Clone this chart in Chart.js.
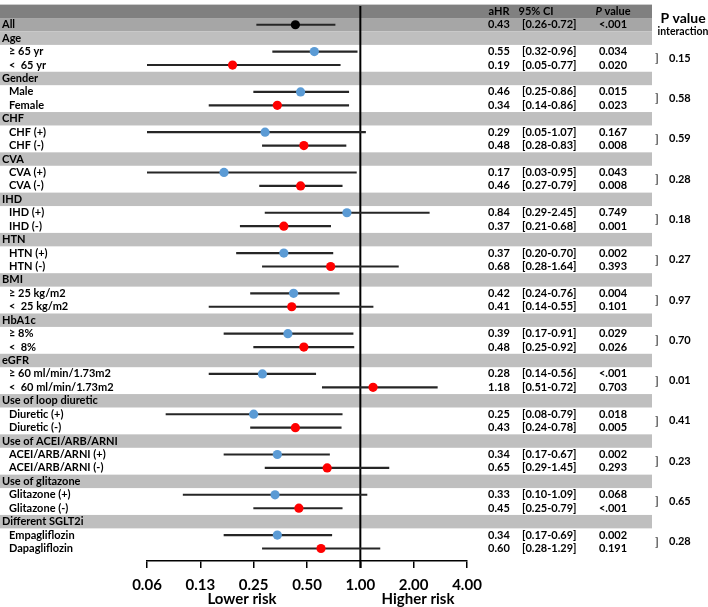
<!DOCTYPE html>
<html>
<head>
<meta charset="utf-8">
<script src="https://cdn.jsdelivr.net/npm/chart.js@4.4.1/dist/chart.umd.min.js"></script>
<style>
  html, body { margin: 0; padding: 0; background: #fff; }
  #wrap { width: 708px; height: 607px; }
</style>
</head>
<body>
<div id="wrap"><canvas id="forest" width="708" height="607"></canvas></div>
<script>
// subgroup table
const overallLabel = "All";
const groupNames = ["Age", "Gender", "CHF", "CVA", "IHD", "HTN", "BMI", "HbA1c", "eGFR",
    "Use of loop diuretic", "Use of ACEI/ARB/ARNI", "Use of glitazone", "Different SGLT2i"];
const subgroupNames = ["≥ 65 yr", "<  65 yr", "Male", "Female", "CHF (+)", "CHF (-)",
    "CVA (+)", "CVA (-)", "IHD (+)", "IHD (-)", "HTN (+)", "HTN (-)",
    "≥ 25 kg/m2", "<  25 kg/m2", "≥ 8%", "<  8%", "≥ 60 ml/min/1.73m2", "<  60 ml/min/1.73m2",
    "Diuretic (+)", "Diuretic (-)", "ACEI/ARB/ARNI (+)", "ACEI/ARB/ARNI (-)",
    "Glitazone (+)", "Glitazone (-)", "Empagliflozin", "Dapagliflozin"];

// index 0 = All, then subgroups in order
const aHR = [0.43, 0.55, 0.19, 0.46, 0.34, 0.29, 0.48, 0.17, 0.46, 0.84, 0.37, 0.37, 0.68,
    0.42, 0.41, 0.39, 0.48, 0.28, 1.18, 0.25, 0.43, 0.34, 0.65, 0.33, 0.45, 0.34, 0.60];
// whiskers as drawn in the figure
const ciLow = [0.26, 0.32, 0.05, 0.25, 0.14, 0.05, 0.28, 0.03, 0.27, 0.29, 0.21, 0.20, 0.28,
    0.24, 0.14, 0.17, 0.25, 0.14, 0.61, 0.08, 0.24, 0.17, 0.29, 0.10, 0.25, 0.17, 0.28];
const ciHigh = [0.72, 0.96, 0.77, 0.86, 0.86, 1.07, 0.83, 0.95, 0.79, 2.45, 0.68, 0.70, 1.64,
    0.76, 1.18, 0.91, 0.92, 0.56, 2.72, 0.79, 0.78, 0.67, 1.45, 1.09, 0.79, 0.69, 1.29];
// printed columns
const ciText = ["[0.26-0.72]", "[0.32-0.96]", "[0.05-0.77]", "[0.25-0.86]", "[0.14-0.86]",
    "[0.05-1.07]", "[0.28-0.83]", "[0.03-0.95]", "[0.27-0.79]", "[0.29-2.45]", "[0.21-0.68]",
    "[0.20-0.70]", "[0.28-1.64]", "[0.24-0.76]", "[0.14-0.55]", "[0.17-0.91]", "[0.25-0.92]",
    "[0.14-0.56]", "[0.51-0.72]", "[0.08-0.79]", "[0.24-0.78]", "[0.17-0.67]", "[0.29-1.45]",
    "[0.10-1.09]", "[0.25-0.79]", "[0.17-0.69]", "[0.28-1.29]"];
const pText = ["<.001", "0.034", "0.020", "0.015", "0.023", "0.167", "0.008", "0.043", "0.008",
    "0.749", "0.001", "0.002", "0.393", "0.004", "0.101", "0.029", "0.026", "<.001", "0.703",
    "0.018", "0.005", "0.002", "0.293", "0.068", "<.001", "0.002", "0.191"];
const pInteraction = ["0.15", "0.58", "0.59", "0.28", "0.18", "0.27", "0.97", "0.70", "0.01",
    "0.41", "0.23", "0.65", "0.28"];

// x axis
const tickValues = [0.0625, 0.125, 0.25, 0.5, 1, 2, 4];
const tickLabels = ["0.06", "0.13", "0.25", "0.50", "1.00", "2.00", "4.00"];

const FONT = "Lato";
const BLUE = "#5b9bd5", RED = "#ff0000";

// build the row list: header, All, then group + 2 subgroups
const rows = [{ kind: "head" }, { kind: "all", label: overallLabel, k: 0 }];
groupNames.forEach((g, gi) => {
    rows.push({ kind: "group", label: g, gi: gi });
    rows.push({ kind: "data", label: subgroupNames[gi * 2], k: gi * 2 + 1 });
    rows.push({ kind: "data", label: subgroupNames[gi * 2 + 1], k: gi * 2 + 2 });
});
const rowOf = [];
rows.forEach((r, i) => { if (r.k !== undefined) rowOf[r.k] = i; });

const pointColors = aHR.map((v, k) => k === 0 ? "#000" : (k % 2 === 1 ? BLUE : RED));

const bandColor = { head: "#808080", all: "#a6a6a6", group: "#bfbfbf" };

const forestPlugin = {
    id: "forestPlugin",
    beforeDatasetsDraw(chart) {
        const { ctx, scales: { x, y }, chartArea } = chart;
        ctx.save();
        rows.forEach((r, i) => {
            if (r.kind === "data") return;
            const top = y.getPixelForValue(i - 0.5);
            const bot = y.getPixelForValue(i + 0.5);
            ctx.fillStyle = bandColor[r.kind];
            ctx.fillRect(0, top, 652, bot - top);
        });
        // line of no effect
        const x1 = x.getPixelForValue(1);
        ctx.strokeStyle = "#000";
        ctx.lineWidth = 2;
        ctx.beginPath();
        ctx.moveTo(x1, 6);
        ctx.lineTo(x1, chartArea.bottom + 7);
        ctx.stroke();
        ctx.restore();
    },
    afterDraw(chart) {
        const { ctx, scales: { x, y }, chartArea } = chart;
        ctx.save();
        ctx.fillStyle = "#000";
        ctx.textBaseline = "middle";

        // header row
        const hy = y.getPixelForValue(0);
        ctx.font = "bold 11px " + FONT;
        ctx.textAlign = "center";
        ctx.fillText("aHR", 499, hy);
        ctx.fillText("95% CI", 536, hy);
        ctx.font = "italic bold 11px " + FONT;
        const wP = ctx.measureText("P").width;
        ctx.font = "bold 11px " + FONT;
        const wV = ctx.measureText(" value").width;
        ctx.textAlign = "left";
        const px0 = 613 - (wP + wV) / 2;
        ctx.font = "italic bold 11px " + FONT;
        ctx.fillText("P", px0, hy);
        ctx.font = "bold 11px " + FONT;
        ctx.fillText(" value", px0 + wP, hy);

        rows.forEach((r, i) => {
            if (r.kind === "head") return;
            const yc = y.getPixelForValue(i);
            ctx.font = "bold 11px " + FONT;
            ctx.textAlign = "left";
            ctx.fillText(r.label, r.kind === "data" ? 9 : 2, yc);
            if (r.k !== undefined) {
                ctx.textAlign = "center";
                ctx.fillText(aHR[r.k].toFixed(2), 499, yc);
                ctx.textAlign = "left";
                ctx.fillText(ciText[r.k], 522, yc);
                ctx.textAlign = "center";
                ctx.fillText(pText[r.k], 613, yc);
            }
        });

        // interaction column
        ctx.textAlign = "center";
        ctx.font = "bold 14px " + FONT;
        ctx.fillText("P value", 683, 18);
        ctx.font = "bold 10.5px " + FONT;
        ctx.fillText("interaction", 683, 32);
        groupNames.forEach((g, gi) => {
            const ym = (y.getPixelForValue(rowOf[gi * 2 + 1]) + y.getPixelForValue(rowOf[gi * 2 + 2])) / 2;
            ctx.textAlign = "left";
            ctx.font = "12px " + FONT;
            ctx.fillText("]", 655, ym);
            ctx.font = "bold 11px " + FONT;
            ctx.fillText(pInteraction[gi], 669, ym);
        });

        // risk captions
        ctx.font = "bold 15px " + FONT;
        ctx.textAlign = "center";
        ctx.fillText("Lower risk", 242, 599);
        ctx.fillText("Higher risk", 418, 599);
        ctx.restore();
    }
};

new Chart(document.getElementById("forest"), {
    data: {
        datasets: [
            {
                type: "scatter",
                data: aHR.map((v, k) => ({ x: v, y: rowOf[k] })),
                pointRadius: 4.6,
                pointBackgroundColor: pointColors,
                pointBorderWidth: 0,
                order: 0
            },
            {
                type: "bar",
                data: ciLow.map((lo, k) => ({ x: [lo, ciHigh[k]], y: rowOf[k] })),
                backgroundColor: "#262626",
                barThickness: 1.5,
                borderSkipped: false,
                grouped: false,
                order: 1
            }
        ]
    },
    options: {
        indexAxis: "y",
        responsive: false,
        animation: false,
        events: [],
        layout: { padding: { left: 147, right: 241, top: 0, bottom: 0 } },
        plugins: { legend: { display: false }, tooltip: { enabled: false } },
        scales: {
            x: {
                type: "logarithmic",
                position: "bottom",
                min: 0.0625,
                max: 4,
                afterBuildTicks: (axis) => { axis.ticks = tickValues.map(v => ({ value: v })); },
                afterFit: (axis) => { axis.height = 46; },
                grid: { drawOnChartArea: false, drawTicks: true, tickLength: 7, color: "#000", lineWidth: 1.5 },
                border: { display: true, color: "#000", width: 1.5 },
                ticks: {
                    autoSkip: false,
                    maxRotation: 0,
                    padding: 8,
                    color: "#000",
                    font: { family: FONT, size: 15, weight: "bold" },
                    callback: (v, i) => tickLabels[i]
                }
            },
            y: {
                type: "linear",
                reverse: true,
                offset: false,
                min: -0.5,
                max: 40.93,
                display: false
            }
        }
    },
    plugins: [forestPlugin]
});
</script>
</body>
</html>
